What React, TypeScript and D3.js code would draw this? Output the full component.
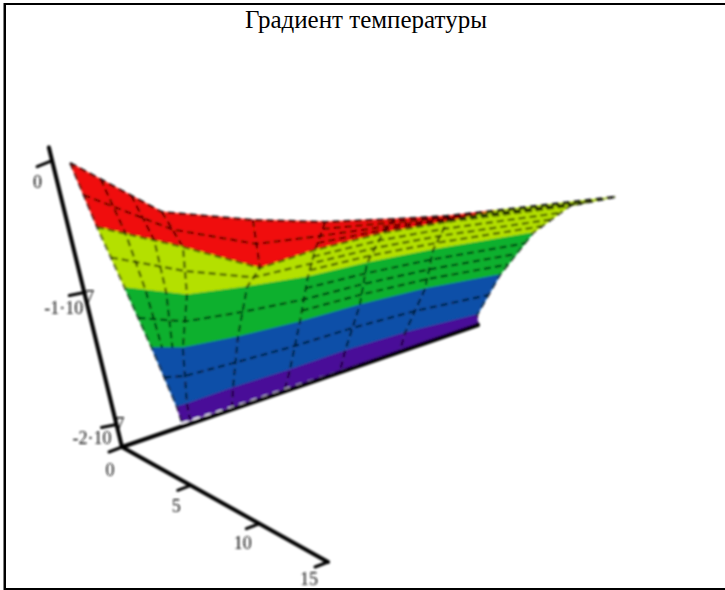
import React, { useEffect, useRef } from "react";
import * as d3 from "d3";

const chartTitle = "Градиент температуры";

// Contour levels, top to bottom, and the fill between them
const bandLevels = [1e6, -4e6, -8e6, -1.2e7, -1.6e7, -2e7];
const bandColors = ["#f00f08", "#b4e004", "#0cb02e", "#0c50a8", "#4a0c98"];

// Surface: one row per line across, one column per line down
const surfaceX = [
  [0.69, 4.88, 7.47, 9.29, 10.52, 11.02, 13.33],
  [1.99, 5.98, 9.81, 9.88, 10.39, 11.27, 12.23],
  [3.06, 5.35, 6.36, 7.24, 7.75, 8.52, 9.92],
  [4.03, 4.89, 5.53, 6.03, 6.32, 6.83, 7.77],
  [4.87, 4.91, 4.89, 5.01, 5.0, 5.21, 5.75],
  [4.58, 4.56, 4.66, 4.68, 4.75, 4.79, 4.85],
];
const surfaceY = [
  [0.36, 1.53, 3.8, 5.75, 7.93, 9.75, 15.4],
  [0.2, 1.51, 2.54, 4.82, 7.39, 9.58, 14.07],
  [0.21, 1.5, 3.45, 5.5, 7.7, 10.04, 13.44],
  [0.24, 1.05, 3.0, 5.32, 7.68, 10.13, 12.75],
  [0.27, 0.67, 2.62, 4.95, 7.28, 9.68, 12.41],
  [0.45, 0.8, 2.51, 4.73, 7.01, 9.51, 12.76],
];
const surfaceZ = [
  [0, -2e6, -2.5e6, -2.8e6, -3.2e6, -3.8e6, -4.5e6],
  [-4e6, -4e6, -4e6, -4e6, -4e6, -4e6, -5e6],
  [-8e6, -8e6, -8e6, -8e6, -8e6, -8e6, -8e6],
  [-1.2e7, -1.2e7, -1.2e7, -1.2e7, -1.2e7, -1.2e7, -1.2e7],
  [-1.6e7, -1.6e7, -1.6e7, -1.6e7, -1.6e7, -1.6e7, -1.6e7],
  [-1.75e7, -1.75e7, -1.75e7, -1.75e7, -1.75e7, -1.75e7, -1.75e7],
];

// Axis ticks
const xTicks = [0, 5, 10, 15];
const zTicks = [0, -1e7, -2e7];
const zTickLabels = ["0", "-1·10", "-2·10"];

const width = 725;
const height = 590;

// Oblique projection: each data axis gets its own screen direction
const xToLeft = d3.scaleLinear().domain([0, 15]).range([122, 328]);
const xToTop = d3.scaleLinear().domain([0, 15]).range([447, 562]);
const yToLeft = d3.scaleLinear().domain([0, 15]).range([0, 356]);
const yToTop = d3.scaleLinear().domain([0, 15]).range([0, -122]);
const zToLeft = d3.scaleLinear().domain([-2.17e7, 0]).range([0, -69.9]);
const zToTop = d3.scaleLinear().domain([-2.17e7, 0]).range([0, -286.4]);

type Node = { left: number; top: number; z: number };

function project(x: number, y: number, z: number): Node {
  return {
    left: xToLeft(x) + yToLeft(y) + zToLeft(z),
    top: xToTop(x) + yToTop(y) + zToTop(z),
    z,
  };
}

function mix(a: Node, b: Node, t: number): Node {
  return {
    left: a.left + (b.left - a.left) * t,
    top: a.top + (b.top - a.top) * t,
    z: a.z + (b.z - a.z) * t,
  };
}

/** Cuts a polygon to the part on one side of a z level. */
function clipLevel(poly: Node[], level: number, keepAbove: boolean): Node[] {
  const inside = (n: Node) => (keepAbove ? n.z >= level : n.z <= level);
  const out: Node[] = [];
  poly.forEach((cur, i) => {
    const next = poly[(i + 1) % poly.length];
    if (inside(cur)) out.push(cur);
    if (inside(cur) !== inside(next)) {
      out.push(mix(cur, next, (level - cur.z) / (next.z - cur.z)));
    }
  });
  return out;
}

export default function App() {
  const ref = useRef<SVGSVGElement>(null);

  useEffect(() => {
    const svg = d3.select(ref.current);
    svg.selectAll("*").remove();

    // The reference is a soft, compressed scan
    svg
      .append("filter")
      .attr("id", "soft")
      .attr("filterUnits", "userSpaceOnUse")
      .attr("x", 0)
      .attr("y", 0)
      .attr("width", width)
      .attr("height", height)
      .append("feGaussianBlur")
      .attr("stdDeviation", 0.8);

    const grid: Node[][] = surfaceX.map((row, r) =>
      row.map((x, c) => project(x, surfaceY[r][c], surfaceZ[r][c]))
    );

    const outline = d3
      .line<Node>()
      .x((d) => d.left)
      .y((d) => d.top);
    const closed = d3
      .line<Node>()
      .x((d) => d.left)
      .y((d) => d.top)
      .curve(d3.curveLinearClosed);

    // Frame
    svg.append("rect").attr("x", 3).attr("y", 3).attr("width", 1).attr("height", height).attr("fill", "#808080");
    svg.append("rect").attr("x", 4).attr("y", 3).attr("width", width).attr("height", 2).attr("fill", "#000");
    svg.append("rect").attr("x", 4).attr("y", 3).attr("width", 2).attr("height", height).attr("fill", "#000");
    svg.append("rect").attr("x", 4).attr("y", height - 2).attr("width", width).attr("height", 2).attr("fill", "#000");

    // Title
    svg
      .append("text")
      .attr("x", 366)
      .attr("y", 28)
      .attr("text-anchor", "middle")
      .attr("font-family", "'Liberation Serif'")
      .attr("font-size", 25)
      .attr("fill", "#000")
      .text(chartTitle);

    const plot = svg.append("g").attr("filter", "url(#soft)");

    // Filled contour bands, one clipped piece per grid cell
    const bands = plot.append("g");
    bandColors.forEach((color, b) => {
      for (let r = 0; r < grid.length - 1; r++) {
        for (let c = 0; c < grid[r].length - 1; c++) {
          const cell = [grid[r][c], grid[r][c + 1], grid[r + 1][c + 1], grid[r + 1][c]];
          const piece = clipLevel(clipLevel(cell, bandLevels[b], false), bandLevels[b + 1], true);
          if (piece.length < 3) continue;
          bands
            .append("path")
            .attr("d", closed(piece))
            .attr("fill", color)
            .attr("stroke", color)
            .attr("stroke-width", 0.6);
        }
      }
    });

    // Dashed wire mesh: columns, then the lines halfway between rows
    const wire = plot
      .append("g")
      .attr("fill", "none")
      .attr("stroke", "#000")
      .attr("stroke-opacity", 0.62)
      .attr("stroke-width", 2.2)
      .attr("stroke-dasharray", "7 4");

    grid[0].forEach((_, c) => {
      wire.append("path").attr("d", outline(grid.map((row) => row[c])));
    });
    for (let r = 0; r < grid.length - 2; r++) {
      wire.append("path").attr("d", outline(grid[r].map((n, c) => mix(n, grid[r + 1][c], 0.5))));
    }
    wire.append("path").attr("d", outline(grid[1]));
    wire.append("path").attr("d", outline(grid[0])).attr("stroke-opacity", 0.85);

    // Slanted wires near the left edge
    [1 / 3, 2 / 3].forEach((t) => {
      const nodes = grid.slice(0, 4).map((row) => mix(row[0], row[1], t));
      wire.append("path").attr("d", outline(nodes));
    });

    // Extra wires toward the far tip, where the reference packs them tight
    for (let r = 0; r < 3; r++) {
      [0.25, 0.75].forEach((t) => {
        wire
          .append("path")
          .attr("d", outline(grid[r].slice(3).map((n, c) => mix(n, grid[r + 1][c + 3], t))));
      });
    }

    // Pale dashes just above the back axis
    plot
      .append("path")
      .attr("d", outline(grid[grid.length - 1]))
      .attr("fill", "none")
      .attr("stroke", "#fff")
      .attr("stroke-width", 1.4)
      .attr("stroke-dasharray", "6 6");

    // Axes
    const axes = plot.append("g").attr("stroke", "#000").attr("fill", "none").attr("stroke-linecap", "round");
    const base = project(0, 0, -2.17e7);
    axes.append("path").attr("stroke-width", 4).attr("d", outline([base, project(15, 0, -2.17e7)]));
    axes.append("path").attr("stroke-width", 4).attr("d", outline([base, project(0, 15, -2.17e7)]));
    axes.append("path").attr("stroke-width", 4).attr("d", outline([base, project(0, 0, 1e6)]));

    const labels = plot
      .append("g")
      .attr("font-family", "'Liberation Serif'")
      .attr("font-size", 18)
      .attr("fill", "#111");

    xTicks.forEach((t) => {
      const at = project(t, 0, -2.17e7);
      axes
        .append("path")
        .attr("stroke-width", 3)
        .attr("d", outline([at, { left: at.left - 13, top: at.top + 5, z: 0 }]));
      labels
        .append("text")
        .attr("x", at.left - 12 - t * 0.47)
        .attr("y", at.top + 29 - t * 0.4)
        .attr("text-anchor", "middle")
        .text(t);
    });

    zTicks.forEach((t, i) => {
      const at = project(0, 0, t);
      axes
        .append("path")
        .attr("stroke-width", 3)
        .attr("d", outline([at, { left: at.left - 15, top: at.top + (i === 0 ? 6 : 3), z: 0 }]));
      labels
        .append("text")
        .attr("x", at.left + (i === 0 ? -10 : i === 1 ? -1 : -5))
        .attr("y", at.top + (i === 0 ? 27 : i === 1 ? 21 : 19))
        .attr("text-anchor", "end")
        .text(zTickLabels[i]);
      if (i > 0) {
        labels
          .append("text")
          .attr("x", at.left + (i === 1 ? 1 : -1))
          .attr("y", at.top + (i === 1 ? 10 : 5))
          .text("7");
      }
    });
  }, []);

  return (
    <svg
      ref={ref}
      width={width}
      height={height}
      style={{ position: "absolute", left: 0, top: 0, background: "#fff" }}
    />
  );
}
